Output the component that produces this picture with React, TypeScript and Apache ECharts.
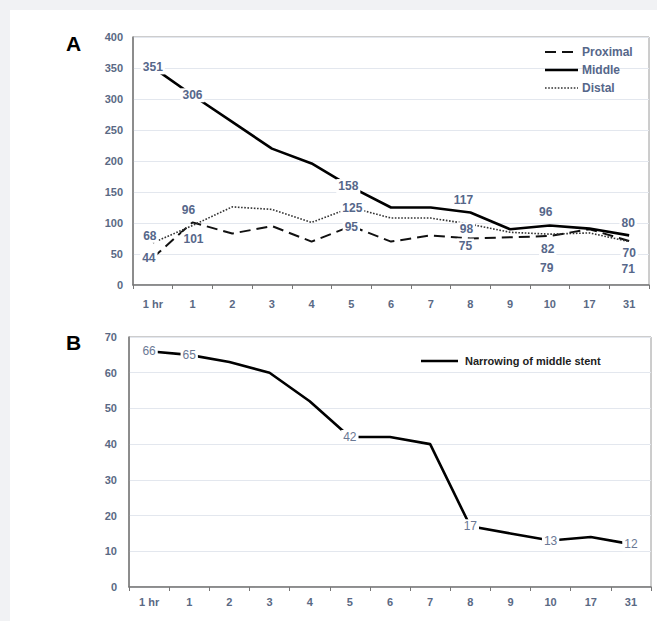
import React, { useEffect, useRef } from 'react';
import * as echarts from 'echarts';

const categories = ['1 hr', '1', '2', '3', '4', '5', '6', '7', '8', '9', '10', '17', '31'];
const proximal = [44, 101, 83, 95, 70, 95, 70, 80, 75, 77, 79, 90, 71];
const middle = [351, 306, 263, 220, 196, 158, 125, 125, 117, 90, 96, 91, 80];
const distal = [68, 96, 126, 122, 101, 125, 108, 108, 98, 85, 82, 84, 70];
const narrowing = [66, 65, 63, 60, 52, 42, 42, 40, 17, 15, 13, 14, 12];

const seriesNamesA = ['Proximal', 'Middle', 'Distal'];
const seriesNameB = 'Narrowing of middle stent';

const yTicksA = { min: 0, max: 400, interval: 50 };
const yTicksB = { min: 0, max: 70, interval: 10 };

// label placement (index -> pixel offset from the point)
const offsetsMiddle: Record<number, number[]> = { 0: [0, 0], 1: [0, 0], 5: [-3, -1], 8: [-7, -12], 10: [-4, -13], 12: [-1, -12] };
const offsetsDistal: Record<number, number[]> = { 0: [-3, -7], 1: [-4, -15], 5: [1, 0], 8: [-4, 5], 10: [-2, 15], 12: [0, 11] };
const offsetsProximal: Record<number, number[]> = { 0: [-4, 0], 1: [1, 17], 5: [0, 1], 8: [-5, 7], 10: [-3, 32], 12: [-1, 28] };
const offsetsNarrowing: Record<number, number[]> = { 0: [0, 0], 1: [0, 0], 5: [0, 0], 8: [0, 0], 10: [0, 0], 12: [0, 0] };

const FONT = 'Arial, "Liberation Sans", sans-serif';
const AXIS_COLOR = '#5a6984';

const styleProximal = { stroke: '#111', lineWidth: 2, lineDash: [11, 6] };
const styleMiddle = { stroke: '#000', lineWidth: 2.6 };
const styleDistal = { stroke: '#333', lineWidth: 1.6, lineDash: [1.6, 1.6] };

function withLabels(values: number[], offsets: Record<number, number[]>, labelStyle: any) {
  return values.map((v, i) =>
    offsets[i]
      ? { value: v, label: { show: true, position: 'inside', offset: offsets[i], ...labelStyle } }
      : v
  );
}

function legendEntry(x: number, y: number, w: number, lineStyle: any, text: string, font: string, fill: string, gap: number) {
  return [
    { type: 'rect', silent: true, z: 99, shape: { x: x + w + gap - 1, y: y - 7, width: 0, height: 14 }, style: { fill: '#fff' } },
    { type: 'line', silent: true, z: 100, shape: { x1: x, y1: y, x2: x + w, y2: y }, style: { ...lineStyle, fill: null } },
    { type: 'text', silent: true, z: 100, x: x + w + gap, y, style: { text, font, fill, verticalAlign: 'middle', align: 'left' } },
  ];
}

export default function App() {
  const ref = useRef<HTMLDivElement>(null);
  useEffect(() => {
    if (!ref.current) return;
    const chart = echarts.init(ref.current, undefined, { renderer: 'svg' });
    const labelA = {
      color: '#56678a',
      fontWeight: 'bold',
      fontSize: 12,
      fontFamily: FONT,
      backgroundColor: '#ffffff',
      padding: [1, 2],
    };
    const labelB = {
      color: '#6a7894',
      fontSize: 12,
      fontFamily: FONT,
      backgroundColor: '#ffffff',
      padding: [1, 2],
    };
    const xAxisBase = (gridIndex: number, margin: number) => ({
      type: 'category',
      gridIndex,
      data: categories,
      boundaryGap: true,
      axisLine: { lineStyle: { color: '#777777', width: 1.5 } },
      axisTick: { show: true, length: 4, lineStyle: { color: '#777777' } },
      axisLabel: { color: AXIS_COLOR, fontWeight: 'bold', fontSize: 11, fontFamily: FONT, margin },
      splitLine: { show: false },
    });
    const yAxisBase = (gridIndex: number, t: any, margin: number) => ({
      type: 'value',
      gridIndex,
      min: t.min,
      max: t.max,
      interval: t.interval,
      axisLine: { show: true, lineStyle: { color: '#777777', width: 1.5 } },
      axisTick: { show: false },
      axisLabel: { color: AXIS_COLOR, fontWeight: 'bold', fontSize: 11, fontFamily: FONT, margin },
      splitLine: { show: true, lineStyle: { color: '#e3e7ee', width: 1 } },
    });
    const legendFontA = `bold 12px ${FONT}`;
    const legendFontB = `bold 11px ${FONT}`;
    chart.setOption({
      animation: false,
      backgroundColor: 'transparent',
      textStyle: { fontFamily: FONT },
      grid: [
        { left: 123, top: 27, width: 516, height: 248, show: true, borderColor: '#9a9a9a', borderWidth: 1 },
        { left: 119, top: 327, width: 522, height: 250, show: true, borderColor: '#9a9a9a', borderWidth: 1 },
      ],
      xAxis: [xAxisBase(0, 13), xAxisBase(1, 9)],
      yAxis: [yAxisBase(0, yTicksA, 10), yAxisBase(1, yTicksB, 12)],
      graphic: [
        { type: 'text', z: 100, left: 56, top: 23, style: { text: 'A', font: `bold 21px ${FONT}`, fill: '#000' } },
        { type: 'text', z: 100, left: 56, top: 322, style: { text: 'B', font: `bold 21px ${FONT}`, fill: '#000' } },
        ...legendEntry(535, 42, 33, styleProximal, seriesNamesA[0], legendFontA, '#56678a', 4),
        ...legendEntry(535, 60, 33, styleMiddle, seriesNamesA[1], legendFontA, '#56678a', 4),
        ...legendEntry(535, 78, 33, styleDistal, seriesNamesA[2], legendFontA, '#56678a', 4),
        ...legendEntry(411, 351, 37, styleMiddle, seriesNameB, legendFontB, '#222222', 7),
      ],
      series: [
        {
          name: seriesNamesA[0],
          type: 'line',
          xAxisIndex: 0,
          yAxisIndex: 0,
          data: withLabels(proximal, offsetsProximal, labelA),
          symbol: 'circle',
          symbolSize: 0,
          showSymbol: true,
          itemStyle: { color: '#111' },
          lineStyle: { color: styleProximal.stroke, width: styleProximal.lineWidth, type: styleProximal.lineDash },
        },
        {
          name: seriesNamesA[1],
          type: 'line',
          xAxisIndex: 0,
          yAxisIndex: 0,
          data: withLabels(middle, offsetsMiddle, labelA),
          symbol: 'circle',
          symbolSize: 0,
          showSymbol: true,
          itemStyle: { color: '#000' },
          lineStyle: { color: styleMiddle.stroke, width: styleMiddle.lineWidth },
        },
        {
          name: seriesNamesA[2],
          type: 'line',
          xAxisIndex: 0,
          yAxisIndex: 0,
          data: withLabels(distal, offsetsDistal, labelA),
          symbol: 'circle',
          symbolSize: 0,
          showSymbol: true,
          itemStyle: { color: '#333' },
          lineStyle: { color: styleDistal.stroke, width: styleDistal.lineWidth, type: styleDistal.lineDash },
        },
        {
          name: seriesNameB,
          type: 'line',
          xAxisIndex: 1,
          yAxisIndex: 1,
          data: withLabels(narrowing, offsetsNarrowing, labelB),
          symbol: 'circle',
          symbolSize: 0,
          showSymbol: true,
          itemStyle: { color: '#000' },
          lineStyle: { color: styleMiddle.stroke, width: styleMiddle.lineWidth },
        },
      ],
    });
    return () => chart.dispose();
  }, []);
  return (
    <div style={{ position: 'fixed', left: 0, top: 0, width: 657, height: 621, background: '#f1f2f4' }}>
      <div
        ref={ref}
        style={{ position: 'absolute', left: 10, top: 10, width: 647, height: 611, background: '#ffffff' }}
      />
    </div>
  );
}
